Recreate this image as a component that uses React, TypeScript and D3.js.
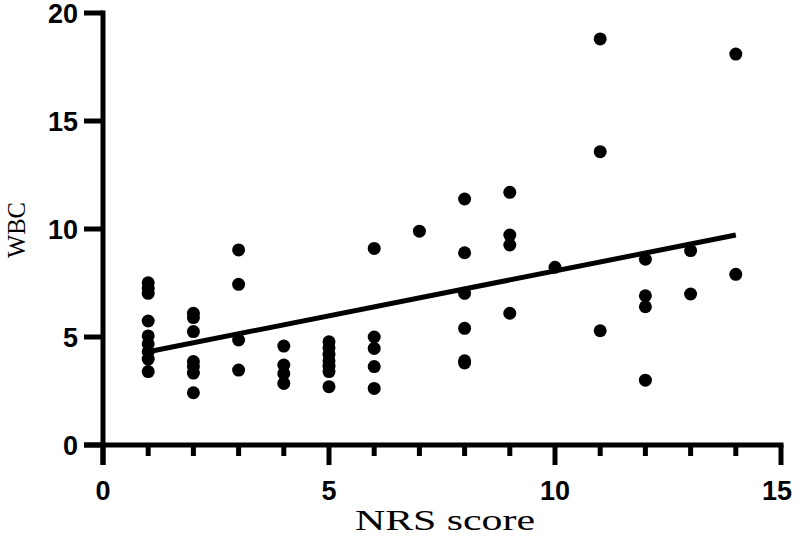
import React from 'react';
import * as d3 from 'd3';

// NRS score (x) and WBC (y) for each patient
const nrsScore = [
  1, 1, 1, 1, 1, 1, 1, 1, 1,
  2, 2, 2, 2, 2, 2, 2,
  3, 3, 3, 3,
  4, 4, 4, 4,
  5, 5, 5, 5, 5, 5, 5,
  6, 6, 6, 6, 6,
  7,
  8, 8, 8, 8, 8, 8,
  9, 9, 9, 9,
  10,
  11, 11, 11,
  12, 12, 12, 12,
  13, 13,
  14, 14,
];
const wbc = [
  7.51, 7.25, 7.02, 5.74, 5.05, 4.68, 4.32, 3.98, 3.4,
  6.1, 5.9, 5.25, 3.86, 3.63, 3.33, 2.42,
  9.03, 7.44, 4.86, 3.47,
  4.58, 3.7, 3.3, 2.85,
  4.78, 4.5, 4.2, 3.9, 3.65, 3.4, 2.7,
  9.1, 5.0, 4.47, 3.63, 2.62,
  9.9,
  11.39, 8.9, 7.02, 5.4, 3.9, 3.8,
  11.7, 9.72, 9.26, 6.1,
  8.23,
  18.8, 13.58, 5.29,
  8.6, 6.91, 6.4, 3.0,
  9.0, 6.99,
  18.1, 7.9,
];

// linear fit shown in the figure
const fitX = [1, 14];
const fitY = [4.32, 9.72];

const xMajorTicks = [0, 5, 10, 15];
const xMinorTicks = [1, 2, 3, 4, 6, 7, 8, 9, 11, 12, 13, 14];
const yTicks = [0, 5, 10, 15, 20];

export default function App() {
  const width = 800;
  const height = 536;

  const x = d3.scaleLinear().domain([0, 15]).range([103, 781]);
  const y = d3.scaleLinear().domain([0, 20]).range([445, 13]);

  const fitLine = d3
    .line<number>()
    .x((d) => x(d))
    .y((_, i) => y(fitY[i]));

  const tickFont = "'Liberation Sans', Arial, sans-serif";
  const labelFont = "'Liberation Serif', 'DejaVu Serif', serif";

  return (
    <div style={{ position: 'fixed', left: 0, top: 0 }}>
      <svg width={width} height={height} style={{ display: 'block', background: '#fff' }}>
        {/* points */}
        <g fill="#000">
          {nrsScore.map((n, i) => (
            <circle key={i} cx={x(n)} cy={y(wbc[i])} r={6.5} />
          ))}
        </g>

        {/* fit line */}
        <path d={fitLine(fitX) || ''} stroke="#000" strokeWidth={5} fill="none" />

        {/* y axis */}
        <g stroke="#000" strokeWidth={5}>
          <line x1={x(0)} x2={x(0)} y1={y(20) - 2.5} y2={465} />
          {yTicks.map((t) => (
            <line key={t} x1={84} x2={x(0)} y1={y(t)} y2={y(t)} />
          ))}
        </g>
        <g fontFamily={tickFont} fontWeight="bold" fontSize={27} textAnchor="end">
          {yTicks.map((t) => (
            <text key={t} x={78} y={y(t) + 10}>
              {t}
            </text>
          ))}
        </g>

        {/* x axis */}
        <g stroke="#000" strokeWidth={5}>
          <line x1={84} x2={x(15) + 2.5} y1={y(0)} y2={y(0)} />
          {xMajorTicks.map((t) => (
            <line key={t} x1={x(t)} x2={x(t)} y1={y(0)} y2={465} />
          ))}
          {xMinorTicks.map((t) => (
            <line key={t} x1={x(t)} x2={x(t)} y1={y(0)} y2={456} />
          ))}
        </g>
        <g fontFamily={tickFont} fontWeight="bold" fontSize={27} textAnchor="middle">
          {xMajorTicks.map((t) => (
            <text key={t} x={x(t) - (t === 15 ? 4 : 0)} y={500}>
              {t}
            </text>
          ))}
        </g>

        {/* axis titles */}
        <text
          x={355}
          y={530}
          fontFamily={labelFont}
          fontSize={30}
          textLength={180}
          lengthAdjust="spacingAndGlyphs"
        >
          NRS score
        </text>
        <text
          transform="translate(25,258) rotate(-90)"
          fontFamily={labelFont}
          fontSize={26}
          textLength={56}
          lengthAdjust="spacingAndGlyphs"
        >
          WBC
        </text>
      </svg>
    </div>
  );
}
